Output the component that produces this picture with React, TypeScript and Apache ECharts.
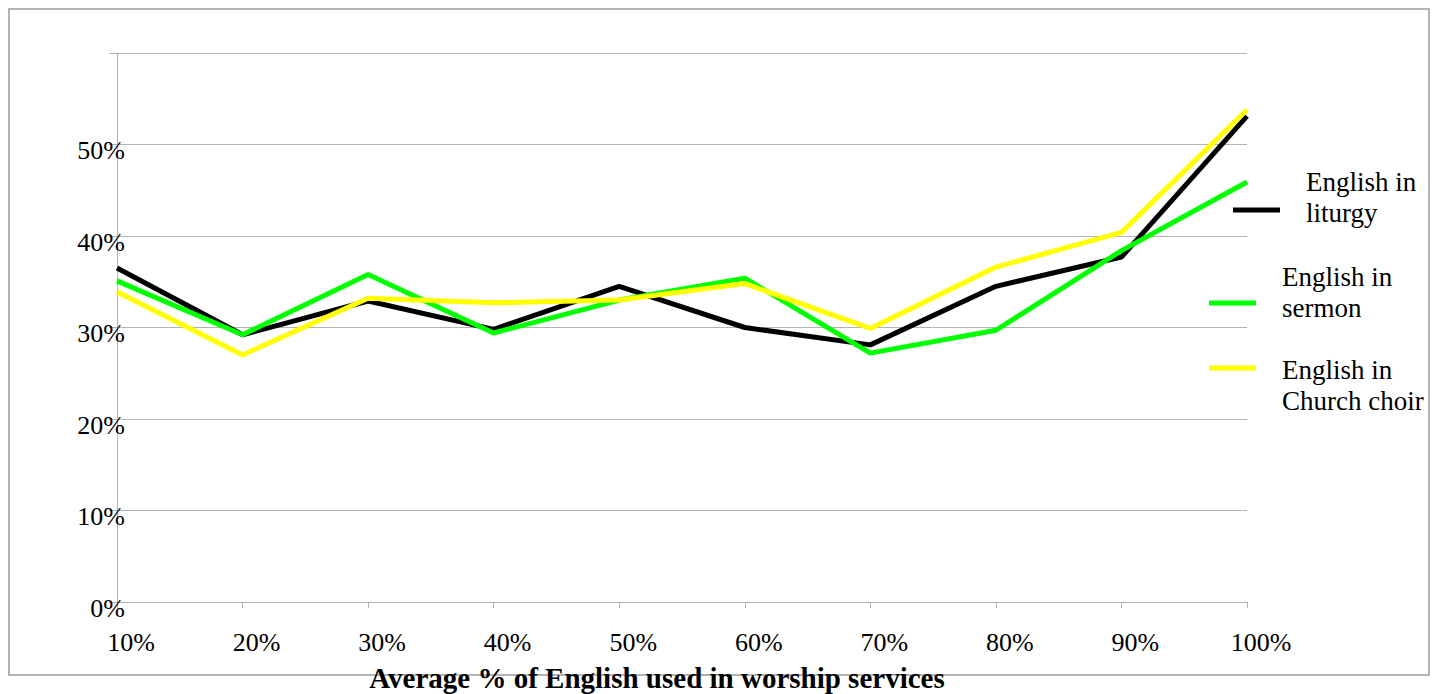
import React, { useEffect, useRef } from "react";
import * as echarts from "echarts";

const categories = ["10%", "20%", "30%", "40%", "50%", "60%", "70%", "80%", "90%", "100%"];
const liturgy = [36.5, 29.2, 32.9, 29.8, 34.5, 30.0, 28.1, 34.5, 37.7, 53.1];
const sermon = [35.1, 29.2, 35.8, 29.4, 33.0, 35.4, 27.2, 29.7, 38.4, 45.9];
const choir = [33.9, 27.0, 33.2, 32.7, 33.0, 34.8, 29.9, 36.6, 40.4, 53.8];
const seriesNames = ["English in liturgy", "English in sermon", "English in Church choir"];
const xAxisTitle = "Average % of English used in worship services";

const FONT = "'Liberation Serif', 'Times New Roman', serif";
const GREY = "#b3b3b3";

export default function App() {
  const ref = useRef<HTMLDivElement>(null);
  useEffect(() => {
    if (!ref.current) return;
    const chart = echarts.init(ref.current, undefined, { renderer: "svg" });
    const legendText = (topGap: number, bottomGap: number) => ({
      fontFamily: FONT,
      fontSize: 27,
      color: "#000",
      padding: [0, 0, 0, 21],
      rich: {
        t: { fontFamily: FONT, fontSize: 27, lineHeight: 31, color: "#000" },
        top: { fontSize: 2, lineHeight: topGap },
        bot: { fontSize: 2, lineHeight: bottomGap },
      },
    });
    const fmt = (top: boolean) => (n: string) => {
      const parts = n.replace("English in ", "English in\n").split("\n");
      const body = parts.map((p) => `{t|${p}}`).join("\n");
      return top ? `{top| }\n${body}` : `${body}\n{bot| }`;
    };
    chart.setOption({
      animation: false,
      backgroundColor: "#fff",
      grid: {
        left: 117,
        right: 198,
        top: 53,
        bottom: 92,
        containLabel: false,
        outerBoundsMode: "none",
      },
      graphic: [
        {
          type: "rect",
          z: -10,
          shape: { x: 9, y: 9, width: 1420, height: 666 },
          style: { fill: "none", stroke: GREY, lineWidth: 2 },
          silent: true,
        },
      ],
      legend: [
        {
          data: [seriesNames[0]],
          left: 1233,
          top: 168,
          padding: 0,
          icon: "rect",
          itemWidth: 47,
          itemHeight: 5,
          formatter: fmt(false),
          textStyle: legendText(0, 26),
        },
        {
          data: [seriesNames[1]],
          left: 1209,
          top: 263.5,
          padding: 0,
          icon: "rect",
          itemWidth: 47,
          itemHeight: 5,
          formatter: fmt(false),
          textStyle: legendText(0, 21),
        },
        {
          data: [seriesNames[2]],
          left: 1209,
          top: 336,
          padding: 0,
          icon: "rect",
          itemWidth: 47,
          itemHeight: 5,
          formatter: fmt(true),
          textStyle: legendText(34, 0),
        },
      ],
      xAxis: {
        type: "category",
        data: categories,
        boundaryGap: false,
        name: xAxisTitle,
        nameLocation: "middle",
        nameGap: 61,
        nameTextStyle: {
          fontFamily: FONT,
          fontSize: 29,
          fontWeight: "bold",
          color: "#000",
          padding: [0, 50, 0, 0],
        },
        axisLine: { show: true, lineStyle: { color: GREY, width: 1 } },
        axisTick: { show: true, length: 6, lineStyle: { color: GREY } },
        axisLabel: {
          fontFamily: FONT,
          fontSize: 26,
          color: "#000",
          margin: 27,
          padding: [0, 0, 0, 28],
        },
        splitLine: { show: false },
      },
      yAxis: {
        type: "value",
        min: 0,
        max: 60,
        interval: 10,
        axisLine: { show: true, lineStyle: { color: GREY, width: 1 } },
        axisTick: { show: true, length: 8, lineStyle: { color: GREY } },
        axisLabel: {
          fontFamily: FONT,
          fontSize: 26,
          color: "#000",
          margin: -8,
          verticalAlign: "top",
          lineHeight: 12,
          formatter: (v: number) => (v === 60 ? "" : v + "%"),
        },
        splitLine: { show: true, lineStyle: { color: GREY, width: 1 } },
      },
      series: [
        {
          name: seriesNames[0],
          type: "line",
          data: liturgy,
          symbol: "none",
          lineStyle: { color: "#000000", width: 5 },
          itemStyle: { color: "#000000" },
        },
        {
          name: seriesNames[1],
          type: "line",
          data: sermon,
          symbol: "none",
          lineStyle: { color: "#00ff00", width: 5 },
          itemStyle: { color: "#00ff00" },
        },
        {
          name: seriesNames[2],
          type: "line",
          data: choir,
          symbol: "none",
          lineStyle: { color: "#ffff00", width: 5 },
          itemStyle: { color: "#ffff00" },
        },
      ],
    });
    return () => chart.dispose();
  }, []);
  return (
    <div
      ref={ref}
      style={{ position: "fixed", left: 0, top: 0, width: 1445, height: 694 }}
    />
  );
}
